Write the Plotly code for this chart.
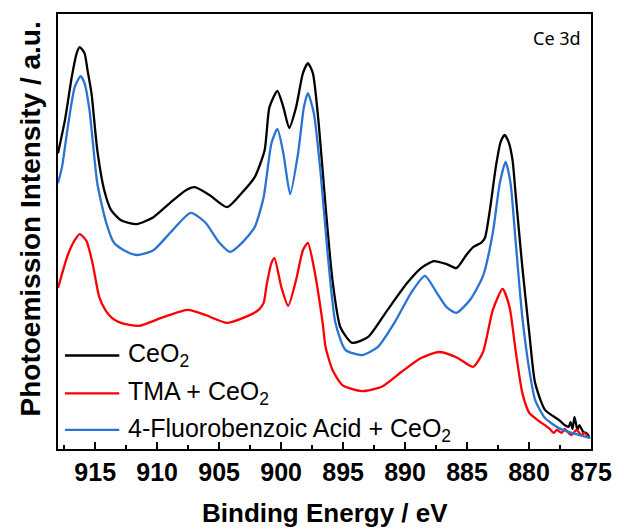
import plotly.graph_objects as go

# Ce 3d XPS spectra: binding energy (eV) and intensity (a.u.)
ceo2_be = [918.00, 917.44, 916.89, 916.49, 916.25, 915.86, 915.62, 915.30, 914.83, 914.27,
           913.71, 912.92, 911.65, 910.30, 908.95, 907.68, 906.97, 905.78, 904.35, 903.16,
           902.13, 901.33, 900.94, 900.30, 899.82, 899.35, 898.79, 898.24, 897.84, 897.44,
           896.97, 896.41, 895.86, 895.22, 894.27, 893.00, 891.41, 889.82, 888.71, 887.68,
           886.65, 885.86, 885.06, 884.51, 883.87, 883.56, 883.16, 882.68, 882.29, 881.97,
           881.65, 881.33, 881.09, 880.54, 879.98, 879.51, 878.71, 877.60, 877.13, 876.81,
           876.65, 876.49, 876.33, 876.10, 875.94, 875.62, 875.38, 875.14]
ceo2_int = [68.0, 75.6, 85.5, 91.0, 92.4, 91.0, 87.1, 81.8, 68.7, 59.5,
            54.9, 52.6, 51.7, 53.3, 56.6, 59.5, 60.2, 58.4, 55.6, 58.9,
            62.5, 68.7, 78.6, 82.3, 78.6, 73.8, 78.6, 86.4, 88.7, 86.4,
            74.9, 55.6, 38.9, 28.0, 24.4, 25.7, 32.0, 38.2, 41.6, 43.2,
            42.5, 41.6, 44.6, 46.4, 47.4, 48.5, 54.9, 64.8, 70.6, 72.2,
            70.6, 66.4, 58.9, 41.8, 26.7, 15.2, 9.0, 6.7, 5.5, 5.1,
            6.2, 4.6, 7.4, 4.4, 5.5, 3.9, 3.7, 2.8]

tma_be = [918.00, 917.21, 916.65, 916.25, 915.70, 915.22, 914.67, 914.19, 913.63, 912.92,
          911.49, 909.51, 907.52, 906.10, 904.35, 902.36, 901.81, 901.41, 901.17, 900.78,
          900.54, 899.98, 899.43, 898.79, 898.24, 897.84, 897.36, 896.65, 896.41, 895.86,
          895.06, 893.48, 891.89, 890.30, 888.71, 887.28, 885.86, 884.51, 883.71, 882.92,
          882.13, 881.57, 881.09, 880.54, 879.98, 879.19, 878.40, 878.00, 877.76, 877.37,
          877.13, 876.81, 876.57, 876.17, 875.78, 875.54, 875.14]
tma_int = [37.0, 44.6, 48.0, 49.4, 47.8, 42.8, 34.9, 32.0, 30.1, 29.0,
           28.3, 30.3, 32.0, 30.8, 29.0, 31.0, 32.0, 33.6, 37.7, 42.8,
           43.9, 37.2, 32.9, 38.9, 45.7, 47.4, 41.8, 29.0, 23.4, 18.2,
           14.7, 13.3, 14.3, 17.7, 20.9, 22.3, 21.1, 18.9, 22.3, 32.0,
           36.8, 32.6, 22.8, 12.9, 8.3, 6.4, 4.8, 3.7, 4.4, 3.7,
           4.6, 3.7, 3.2, 4.4, 3.2, 3.7, 2.5]

fba_be = [918.00, 917.68, 917.21, 916.65, 916.17, 915.86, 915.46, 914.83, 914.11, 913.48,
          912.68, 911.65, 910.30, 908.95, 907.29, 906.10, 904.98, 904.11, 903.16, 902.13,
          901.41, 900.78, 900.30, 899.82, 899.27, 898.63, 898.16, 897.84, 897.36, 896.81,
          896.25, 895.62, 894.82, 893.48, 892.21, 890.86, 889.51, 888.40, 887.44, 886.65,
          885.86, 884.75, 883.71, 882.92, 882.36, 881.89, 881.49, 881.09, 880.54, 879.98,
          879.51, 878.71, 877.60, 876.57, 875.06]
fba_int = [61.1, 64.8, 74.0, 83.2, 85.7, 84.1, 77.9, 61.1, 52.0, 47.4,
           45.7, 44.6, 45.7, 49.7, 54.3, 52.0, 47.4, 45.3, 47.4, 51.0,
           57.9, 70.3, 73.6, 68.0, 58.6, 68.0, 78.6, 81.8, 77.2, 63.4,
           45.1, 29.0, 22.8, 21.6, 23.4, 29.0, 35.9, 39.8, 35.9, 32.6,
           31.3, 34.3, 39.8, 49.7, 61.1, 66.0, 61.1, 48.0, 30.3, 18.2,
           11.3, 7.1, 4.8, 3.7, 2.5]

series = [
    ("CeO<sub>2</sub>", ceo2_be, ceo2_int, "#000000"),
    ("TMA + CeO<sub>2</sub>", tma_be, tma_int, "#ff0000"),
    ("4-Fluorobenzoic Acid + CeO<sub>2</sub>", fba_be, fba_int, "#2a73d2"),
]

x_ticks = [915, 910, 905, 900, 895, 890, 885, 880, 875]

fig = go.Figure()
for name, be, inten, color in series:
    fig.add_trace(go.Scatter(
        x=be, y=inten, mode="lines", name=name, showlegend=False,
        line=dict(color=color, width=2.3, shape="spline", smoothing=0.6),
    ))

# hand-built legend in the lower-left corner of the plot
legend_rows = [0.215, 0.128, 0.044]
for (name, _, _, color), yrow in zip(series, legend_rows):
    fig.add_shape(type="line", xref="paper", yref="paper",
                  x0=0.013, x1=0.115, y0=yrow, y1=yrow,
                  line=dict(color=color, width=2.3))
    fig.add_annotation(xref="paper", yref="paper", x=0.128, y=yrow,
                       xanchor="left", yanchor="middle", showarrow=False,
                       text=name, font=dict(family="Liberation Sans", size=25, color="#000"))

fig.add_annotation(xref="paper", yref="paper", x=0.985, y=0.945,
                   xanchor="right", yanchor="middle", showarrow=False,
                   text="Ce 3d", font=dict(family="Noto Sans", size=18, color="#000"))

fig.add_annotation(xref="paper", yref="paper", x=0.5, y=0, yanchor="top",
                   yshift=-47, showarrow=False,
                   text="<b>Binding Energy / eV</b>",
                   font=dict(family="Liberation Sans", size=26, color="#000"))

fig.add_annotation(xref="paper", yref="paper", x=0, y=0.5, xanchor="center",
                   yanchor="middle", xshift=-28, yshift=12, textangle=-90,
                   showarrow=False,
                   text="<b>Photoemission Intensity / a.u.</b>",
                   font=dict(family="Liberation Sans", size=28, color="#000"))

fig.update_xaxes(
    range=[918, 875], tickvals=x_ticks, ticktext=[str(v) for v in x_ticks],
    ticks="inside", ticklen=7, tickwidth=1.5, tickcolor="#000",
    minor=dict(dtick=2.5, ticks="inside", ticklen=4, tickwidth=1.5, tickcolor="#000"),
    showgrid=False, zeroline=False, ticklabeloverflow="allow",
    showline=True, linecolor="#000", linewidth=2, mirror=True,
    tickfont=dict(family="Liberation Sans", size=25, color="#000", weight="bold"),
)
fig.update_yaxes(
    range=[0, 100], showticklabels=False, ticks="",
    showgrid=False, zeroline=False,
    showline=True, linecolor="#000", linewidth=2, mirror=True,
)
fig.update_layout(
    width=624, height=529,
    margin=dict(l=58, r=24, t=14, b=80),
    plot_bgcolor="#ffffff", paper_bgcolor="#ffffff",
)

fig.write_html("out.html")
